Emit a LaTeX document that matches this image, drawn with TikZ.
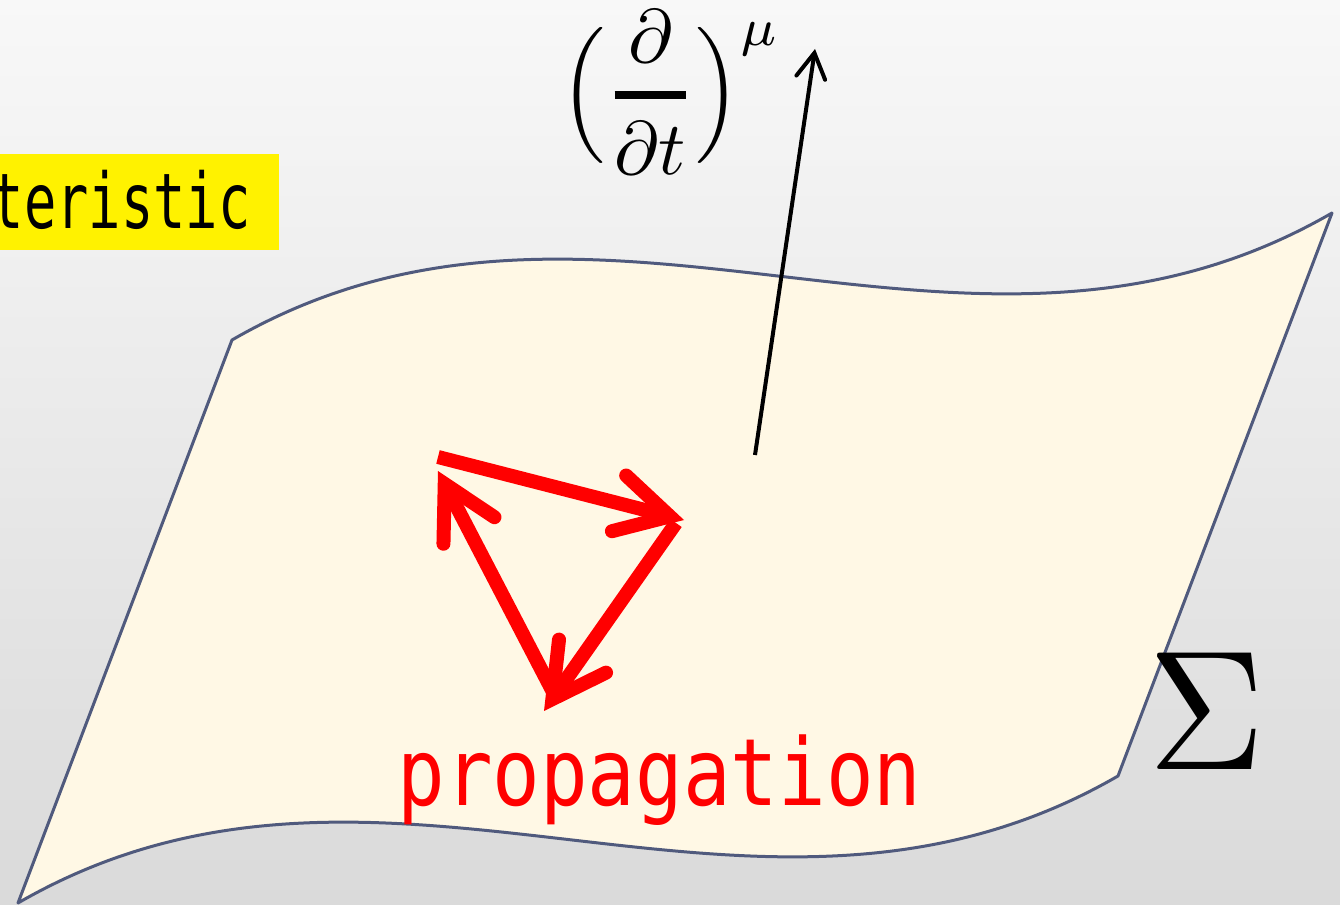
\documentclass[tikz,border=0pt]{standalone}
\usepackage{graphicx}
\usepackage{fontspec}
\usetikzlibrary{arrows.meta}
\newfontfamily\gothA[FakeStretch=0.7]{DejaVu Sans Mono}
\newfontfamily\gothB[FakeStretch=0.85]{DejaVu Sans Mono}
\definecolor{cream}{RGB}{255,248,229}
\definecolor{edgeblue}{RGB}{80,90,125}
\definecolor{bgtop}{RGB}{248,248,248}
\definecolor{bgbot}{RGB}{218,218,218}
\tikzset{
  surf/.style={draw=edgeblue, line width=0.06cm, fill=cream, line join=round},
  redarrow/.style={draw=red, line width=0.28cm, line cap=butt,
    -{Straight Barb[length=1.05cm, width=1.15cm, line cap=round, line join=miter]}},
  normalarrow/.style={draw=black, line width=0.08cm,
    -{Straight Barb[length=0.5cm, width=0.58cm, line cap=round]}},
  lbl/.style={inner sep=0pt}
}
\begin{document}
\begin{tikzpicture}[x=0.02cm, y=-0.02cm]
\useasboundingbox (0,0) rectangle (1340,905);
\shade[top color=bgtop, bottom color=bgbot] (0,0) rectangle (1340,905);
% yellow label box
\fill[yellow] (-10,154) rectangle (279,250);
\node[lbl, anchor=base east] (char) at (251,229) {\fontsize{43.7}{48}\gothA teristic};
% surface
\path[surf] (232,340) .. controls (599,128) and (965,425) .. (1332,213)
  -- (1118,776) .. controls (751,988) and (385,691) .. (18,903) -- cycle;
% normal vector
\coordinate (vs) at (755,455);
\coordinate (vt) at (815,49);
\draw[normalarrow] (vs) -- (vt);
\node[lbl, anchor=base west] (dt) at (560,114) {\scalebox{4.3}{\normalsize$\displaystyle\Big({\partial\above 1pt\partial t}\Big)^{\mu}$}};
% red propagation arrows
\coordinate (a1) at (438,457);
\coordinate (b1) at (684,520);
\coordinate (a2) at (676,523);
\coordinate (b2) at (544,711);
\coordinate (a3) at (553,692);
\coordinate (b3) at (438,471);
\draw[redarrow] (a1) -- (b1);
\draw[redarrow] (a2) -- (b2);
\draw[redarrow] (a3) -- (b3);
\node[lbl, anchor=base west, text=red] (prop) at (397,806) {\fontsize{53}{60}\gothB propagation};
\node[lbl] (sig) at (1207,711) {\scalebox{9.2}[9.7]{\normalsize$\Sigma$}};
\end{tikzpicture}
\end{document}
